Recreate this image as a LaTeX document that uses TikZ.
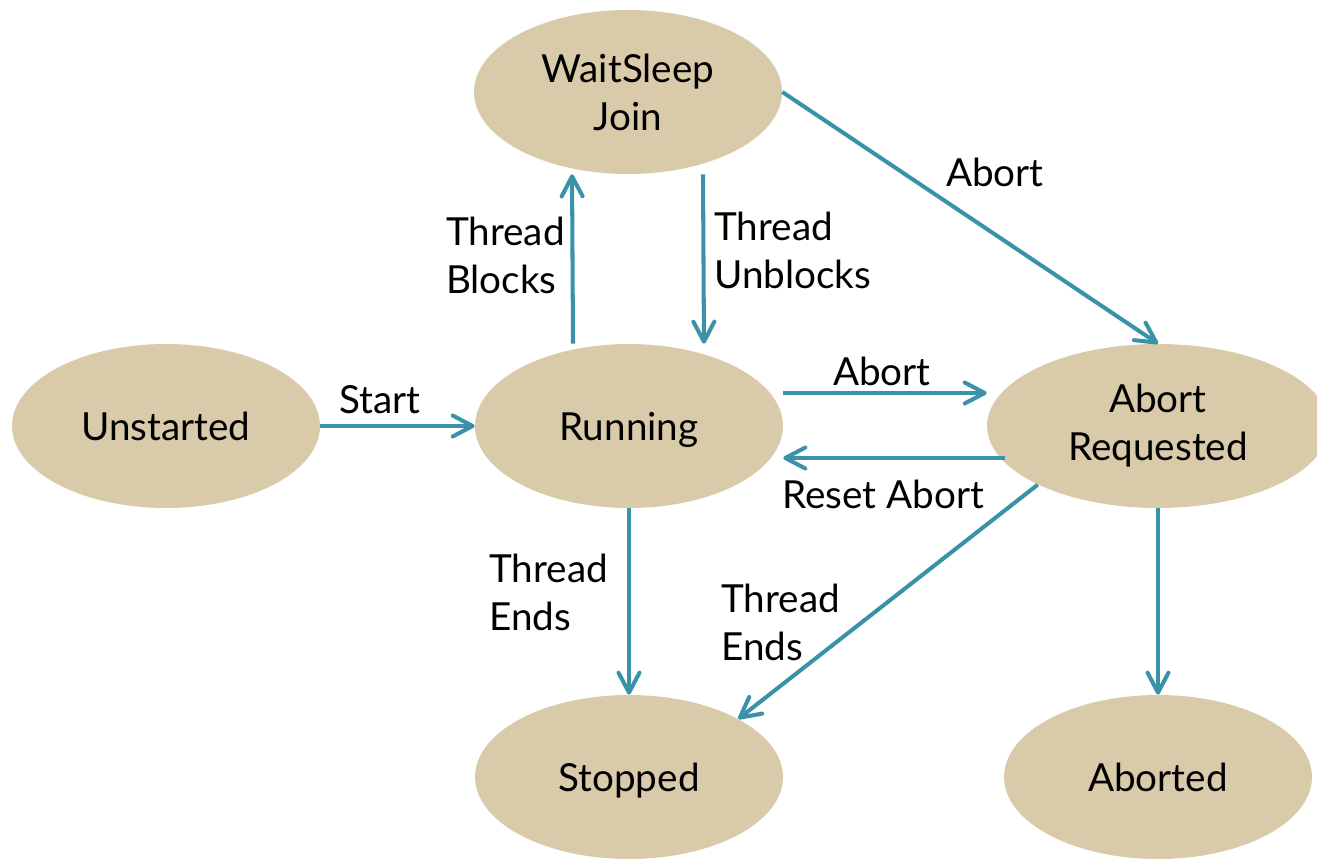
\documentclass[tikz,border=0pt]{standalone}
\usepackage{fontspec}
\setmainfont{Lato}
\usetikzlibrary{shapes.geometric,arrows.meta}
\definecolor{statefill}{HTML}{D9CBAA}
\definecolor{flowteal}{HTML}{3A92A9}

\begin{document}
\begin{tikzpicture}[x=0.02cm,y=-0.02cm,
    state/.style={ellipse,fill=statefill,minimum width=6.16cm,minimum height=3.28cm,
      inner sep=0pt,align=center,font=\fontsize{22}{27.3}\selectfont},
    oneline/.style={text depth=0pt},
    flow/.style={draw=flowteal,line width=2.3pt,
      -{Straight Barb[length=0.4cm,width=0.42cm,round]}},
    lbl/.style={align=left,inner sep=0pt,font=\fontsize{22}{27.3}\selectfont}]
                % Fix the page size
                \useasboundingbox (0,0) rectangle (1317,858);
                % Draw the states
                \node[state] (wsj) at (628,92) {WaitSleep\\Join};
                \node[state,oneline] (uns) at (166,426) {Unstarted};
                \node[state,oneline] (run) at (629,426) {Running};
                \node[state,minimum width=6.84cm] (ar) at (1158,426) {Abort\\Requested};
                \node[state,oneline] (stop) at (629,777) {Stopped};
                \node[state,oneline] (abd) at (1158,777) {Aborted};
                % Draw the transitions
                \draw[flow] (uns) -- (run);
                \draw[flow] ([xshift=-1.12cm]run.north) -- ([xshift=-1.12cm]wsj.south);
                \draw[flow] ([xshift=1.5cm]wsj.south) -- ([xshift=1.5cm]run.north);
                \draw[flow] (wsj.east) -- (ar.north);
                \draw[flow] ([yshift=0.66cm]run.east) -- ([yshift=0.66cm]ar.west);
                \draw[flow] ([xshift=0.36cm,yshift=-0.64cm]ar.west) -- ([yshift=-0.64cm]run.east);
                \draw[flow] (run) -- (stop);
                \draw[flow] (ar.206) -- (stop.28);
                \draw[flow] (ar) -- (abd);
                % Draw the labels
                \node[lbl] (tstart) at (380,400) {Start};
                \node[lbl,anchor=east] (tblocks) at (565,255) {Thread\\Blocks};
                \node[lbl,anchor=west] (tunblocks) at (714,250) {Thread\\Unblocks};
                \node[lbl] (tabortw) at (995,172) {Abort};
                \node[lbl] (tabortr) at (882,371) {Abort};
                \node[lbl] (treset) at (883,494) {Reset Abort};
                \node[lbl,anchor=west] (tendsr) at (489,592) {Thread\\Ends};
                \node[lbl,anchor=west] (tendsa) at (721,622) {Thread\\Ends};
\end{tikzpicture}
\end{document}
